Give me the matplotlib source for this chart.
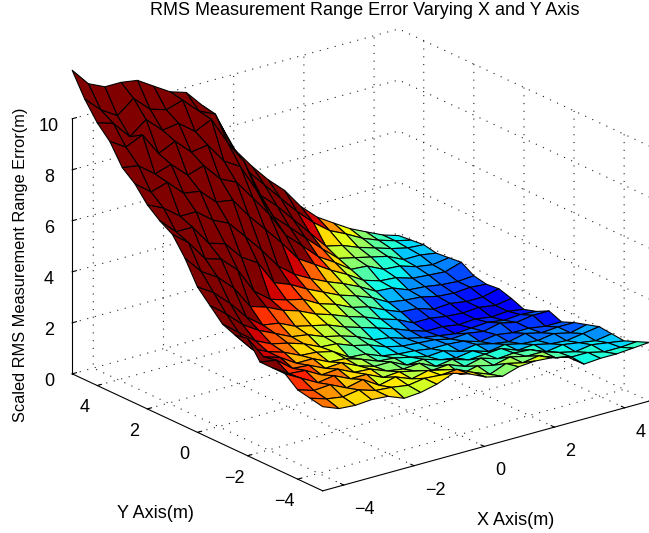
import matplotlib
matplotlib.use('Agg')
import matplotlib.pyplot as plt
import numpy as np
plt.rcParams['font.family'] = ['Liberation Sans', 'DejaVu Sans']
plt.rcParams['font.size'] = 13

x_grid = [-4.6, -4.14, -3.67, -3.21, -2.74, -2.28, -1.81, -1.35, -0.88, -0.42, 0.05,
          0.52, 0.98, 1.45, 1.91, 2.38, 2.84, 3.31, 3.77, 4.24, 4.7]
y_grid = [5, 4.5, 4, 3.5, 3, 2.5, 2, 1.5, 1, 0.5, 0, -0.5, -1, -1.5, -2, -2.5, -3, -3.5, -4, -4.5, -5]

# one row per y value
z_rows = [
    [11.9,11.2,10.9,10.9,10.8,10.4,10.0,9.8,9.1,8.3,7.0,6.2,5.5,4.9,4.1,3.5,3.1,2.7,2.4,2.1,1.9],
    [11.0,10.4,10.0,10.5,9.9,9.7,9.9,9.3,9.0,7.6,6.4,5.7,5.0,4.3,3.7,3.2,2.9,2.55,2.3,2.1,1.95],
    [10.3,10.1,9.4,9.9,9.3,9.4,8.9,9.2,8.1,7.2,5.7,5.1,4.4,3.7,3.0,2.85,2.6,2.4,2.2,2.05,2.0],
    [9.8,9.4,9.7,8.8,9.1,8.5,8.6,7.8,7.4,6.3,5.1,4.5,3.9,3.3,2.75,2.6,2.45,2.3,2.0,2.0,1.9],
    [9.0,8.9,8.4,8.6,8.0,8.2,7.5,7.2,6.4,5.6,4.6,4.0,3.4,3.0,2.55,2.5,2.2,2.15,1.95,1.85,1.95],
    [8.6,8.1,8.3,7.7,7.6,7.0,6.9,6.1,5.4,4.7,3.9,3.5,3.1,2.75,2.35,2.15,2.1,1.9,1.85,1.8,2.0],
    [8.0,7.7,7.2,7.2,6.7,6.4,5.7,5.0,4.2,3.7,3.35,3.05,2.8,2.5,2.15,2.1,1.85,1.8,1.7,1.65,1.7],
    [7.6,7.0,7.0,6.2,6.0,5.3,4.9,3.95,3.7,3.35,3.05,2.75,2.55,2.3,1.95,1.85,1.8,1.65,1.6,1.65,1.6],
    [7.3,6.8,6.0,5.8,5.2,4.2,3.7,3.5,3.35,3.0,2.8,2.5,2.35,2.05,1.8,1.75,1.55,1.6,1.5,1.5,1.65],
    [6.6,5.9,5.5,4.9,4.0,3.8,3.5,3.3,3.0,2.8,2.55,2.35,2.1,1.9,1.6,1.6,1.5,1.45,1.5,1.4,1.5],
    [5.7,5.3,4.7,4.0,3.5,3.4,3.1,2.95,2.8,2.55,2.35,2.15,1.95,1.7,1.5,1.5,1.4,1.45,1.35,1.4,1.3],
    [5.2,4.7,4.1,3.7,3.4,3.1,3.0,2.75,2.6,2.4,2.1,2.0,1.8,1.65,1.55,1.45,1.5,1.55,1.45,1.5,1.45],
    [4.7,4.2,3.7,3.4,3.25,3.05,2.75,2.7,2.45,2.3,2.05,1.9,1.85,1.8,1.65,1.7,1.6,1.75,1.6,1.7,1.7],
    [4.5,3.8,3.5,3.3,3.0,2.95,2.8,2.4,2.35,2.1,2.0,1.95,1.85,1.85,1.8,1.6,1.7,1.6,1.6,1.5,1.5],
    [4.6,3.7,3.5,3.1,3.1,2.8,2.75,2.55,2.3,2.25,2.1,1.95,2.0,1.8,1.9,1.75,1.65,1.8,1.65,1.7,1.7],
    [3.9,3.8,3.3,3.25,2.95,3.0,2.7,2.5,2.5,2.2,2.25,2.05,1.95,2.05,1.85,1.95,1.8,1.75,1.85,1.7,1.85],
    [3.9,3.5,3.45,3.1,3.15,2.85,2.8,2.55,2.45,2.5,2.2,2.3,2.1,2.15,2.2,1.95,2.0,1.85,1.8,1.9,2.0],
    [3.9,3.55,3.2,3.3,3.0,3.0,2.7,2.75,2.6,2.45,2.5,2.25,2.4,2.2,2.25,2.2,1.95,2.05,1.95,1.85,1.95],
    [3.5,3.3,3.35,3.05,3.2,2.8,2.95,2.7,2.85,2.7,2.35,2.5,2.35,2.5,2.35,2.35,2.15,2.0,2.1,2.0,1.9],
    [3.4,3.2,3.1,3.2,3.0,2.95,2.85,2.95,2.9,2.95,2.65,2.4,2.65,2.5,2.6,2.35,2.2,2.2,2.05,2.05,2.1],
    [3.3,3.05,3.0,3.05,3.0,2.75,2.8,2.95,3.2,3.0,2.7,2.55,2.75,2.8,2.75,2.6,2.15,2.2,2.2,2.25,2.3],
]
xy_ticks = [-4, -2, 0, 2, 4]
z_ticks = [0, 2, 4, 6, 8, 10]

# y ascending, so each facet takes its colour from the front vertex
X, Y = np.meshgrid(x_grid, y_grid[::-1])
Z = np.array(z_rows)[::-1]
norm = plt.Normalize(1.1, 3.9)
colors = plt.cm.jet(norm(Z))

fig = plt.figure(figsize=(6.49, 5.33), dpi=100)
ax = fig.add_axes([29 / 649, -0.6 / 533, 1, 1], projection='3d', proj_type='ortho')
ax.view_init(elev=21, azim=-127.5)
ax.set_box_aspect((1, 1, 0.664), zoom=1.171)
surf = ax.plot_surface(X, Y, Z, facecolors=colors, rstride=1, cstride=1, shade=False,
                       edgecolor='black', linewidth=0.8, antialiased=True)
surf.set_clip_on(False)
ax.set_xlim(-4.6, 4.7, view_margin=0)
ax.set_ylim(-5, 5, view_margin=0)
ax.set_zlim(0, 10, view_margin=0)
ax.set_xticks(xy_ticks)
ax.set_yticks(xy_ticks)
ax.set_zticks(z_ticks)
ax.tick_params(axis='x', pad=0.5)
ax.tick_params(axis='y', pad=0)
ax.tick_params(axis='z', pad=0)
for label in ax.get_xticklabels():
    label.set_ha('left')
ax.patch.set_alpha(0)
for axis in (ax.xaxis, ax.yaxis, ax.zaxis):
    axis.pane.set_facecolor('none')
    axis.pane.set_edgecolor('none')
    axis.line.set_color('black')
    axis.line.set_linewidth(0.8)
    axis._axinfo['grid'].update(color='#222222', linestyle=(0, (1, 6)), linewidth=0.8)
    axis._axinfo['tick'].update(inward_factor=0, outward_factor=0.16)

fig.text(0.5624, 0.98, 'RMS Measurement Range Error Varying X and Y Axis', ha='center', va='center')
fig.text(0.794, 0.024, 'X Axis(m)', ha='center', va='center')
fig.text(0.239, 0.0375, 'Y Axis(m)', ha='center', va='center')
fig.text(0.031, 0.503, 'Scaled RMS Measurement Range Error(m)', rotation=90, ha='center', va='center', fontsize=11.8)
fig.savefig('out.png', dpi=100)
